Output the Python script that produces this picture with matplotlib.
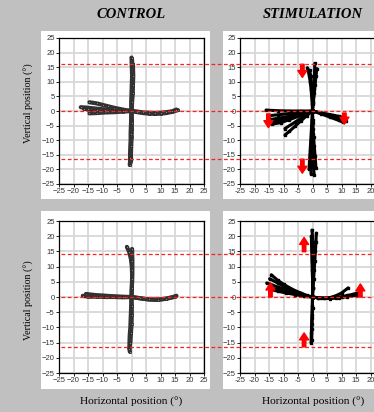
import matplotlib
matplotlib.use("Agg")
import matplotlib.pyplot as plt
from matplotlib.lines import Line2D
from matplotlib.patches import Rectangle
from matplotlib.transforms import blended_transform_factory

W, H = 374, 412

titles = ["CONTROL", "STIMULATION"]
ticks = [-25, -20, -15, -10, -5, 0, 5, 10, 15, 20, 25]

# red reference levels (deg) for each row
ref_top = [16, 0, -16.4]
ref_bottom = [14.3, 0, -16.6]

# trajectories, one (x, y) pair per trial
control_top = [
    ([0, 0.1, 0.2, 0.3, 0.3, 0.4, 0.3, 0.2], [0, 2.5, 5, 7.5, 10, 12.5, 15, 17.5]),
    ([0, -0.1, 0, 0.1, 0.2, 0.1, 0], [0, 3, 6, 9, 12, 15, 18.3]),
    ([0, 0.2, 0.4, 0.5, 0.6, 0.5], [0, 3, 6, 9, 12, 16]),
    ([0, -0.1, -0.2, -0.3, -0.3, -0.4, -0.5, -0.4], [0, -2.5, -5, -7.5, -10, -12.5, -15, -18]),
    ([0, 0.1, 0.1, 0, -0.1, -0.2, -0.1], [0, -3, -6, -9, -12, -15, -17]),
    ([0, 0, -0.1, -0.2, -0.4, -0.6], [0, -4, -8, -12, -16, -18.5]),
    ([0, -2, -4, -6, -8, -10, -12, -14, -16, -17.5], [0, 0.1, 0.2, 0.3, 0.4, 0.6, 0.8, 1, 1.2, 1.3]),
    ([0, -2, -4, -6, -8, -10, -12, -14.5], [0, 0.3, 0.7, 1.1, 1.6, 2.1, 2.6, 3.0]),
    ([0, -3, -6, -9, -12, -14.5], [0, -0.2, -0.4, -0.5, -0.7, -0.8]),
    ([0, -3, -6, -9, -12, -15, -16.5], [0, 0, 0.1, 0.2, 0.4, 0.6, 0.8]),
    ([0, 2, 4, 6, 8, 10, 12, 14, 16], [0, -0.4, -0.7, -0.9, -1, -0.9, -0.7, -0.3, 0.3]),
    ([0, 2, 4, 6, 8, 10, 12, 14, 15.5], [0, -0.2, -0.5, -0.6, -0.7, -0.6, -0.4, -0.1, 0.5]),
]

control_bottom = [
    ([0, 0.1, 0.2, 0.2, 0.1, -0.2, -0.8, -1.6], [0, 2.5, 5, 7.5, 10, 12.5, 14.8, 16.5]),
    ([0, 0.1, 0.2, 0.3, 0.3, 0.2], [0, 3, 6, 9, 12, 15.8]),
    ([0, -0.1, -0.2, -0.3, -0.4, -0.6, -0.7, -0.6], [0, -2.5, -5, -7.5, -10, -12.5, -15, -18]),
    ([0, 0.1, 0.1, 0, -0.2, -0.4, -0.8], [0, -3, -6, -9, -12, -15, -17]),
    ([0, -2, -4, -6, -8, -10, -12, -14, -15.7], [0, 0.05, 0.15, 0.25, 0.35, 0.5, 0.6, 0.8, 1.0]),
    ([0, -3, -6, -9, -12, -15, -16.8], [0, -0.1, 0, 0, 0.1, 0.1, 0.4]),
    ([0, 2, 4, 6, 8, 10, 12, 14, 15.5], [0, -0.3, -0.6, -0.8, -0.9, -0.8, -0.5, -0.1, 0.4]),
    ([0, 3, 6, 9, 12, 15], [0, -0.4, -0.8, -0.9, -0.6, 0.1]),
]

stim_top = [
    ([0, 0.1, 0.3, 0.5, 0.6, 0.7, 0.8], [0, 2.5, 5, 7.5, 10, 13, 16.3]),
    ([0, -0.1, -0.3, -0.5, -0.8, -1.2, -1.8], [0, 2.5, 5, 7.5, 10, 12.5, 14.8]),
    ([0, 0, -0.1, -0.3, -0.6, -1.0], [0, 3, 6, 9, 12, 14]),
    ([0, 0.3, 0.6, 0.9, 1.2, 1.5], [0, 3, 6, 9, 12, 14.5]),
    ([0, -0.1, -0.2, -0.3, -0.4, -0.5, -0.6, -0.5], [0, -3, -6, -9, -12, -15, -18, -21.5]),
    ([0, 0.1, 0.2, 0.4, 0.6, 0.9, 1.2], [0, -3, -6, -9, -12, -15.5, -19.5]),
    ([0, 0, 0, -0.1, 0, 0.3, 0.6], [0, -4, -8, -12, -16, -19, -22]),
    ([0, -0.3, -0.6, -0.9, -1.2], [0, -5, -10, -15, -20]),
    ([0, -4, -8, -12, -16], [0, 0, 0, 0.1, 0.3]),
    ([0, -4, -8, -12, -15], [0, -0.5, -0.9, -1.3, -1.6]),
    ([0, -4, -8, -12, -15], [0, -0.9, -1.8, -2.5, -3]),
    ([0, -4, -8, -12, -15], [0, -1.2, -2.4, -3.4, -4]),
    ([0, -4, -8, -11, -14], [0, -1.5, -3, -4, -4.5]),
    ([0, -3, -6, -9.5], [0, -1.8, -3.8, -6]),
    ([0, -2, -4, -6, -8, -9.5], [0, -1.6, -3.4, -5.2, -7, -8.2]),
    ([0, 3, 6, 9, 11.5], [0, -0.8, -1.6, -2.5, -3.3]),
    ([0, 3, 6, 9, 11], [0, -0.6, -1.2, -1.8, -2.4]),
    ([0, 3, 6, 9, 10.5], [0, -1, -2.1, -3.2, -3.8]),
]

stim_bottom = [
    ([0, 0.1, 0.1, 0.2, 0.3, 0.4, 0.2, -0.2], [0, 3, 6, 9, 12, 15, 18, 22]),
    ([0, 0.2, 0.4, 0.6, 0.8, 1.0, 1.2, 1.3], [0, 3, 6, 9, 12, 15, 18, 21]),
    ([0, 0, 0, -0.1, -0.2, -0.3, -0.4], [0, 3, 6, 9, 12, 16, 20]),
    ([0, -0.1, -0.2, -0.3, -0.4, -0.5], [0, -3, -6, -9, -12, -15]),
    ([0, 0, -0.1, -0.2, -0.3], [0, -3.5, -7, -10.5, -14]),
    ([0, -2, -4, -6, -8, -10, -12, -14.2], [0, 0.5, 1.3, 2.1, 3.1, 4.2, 5.5, 7.3]),
    ([0, -2, -4, -6, -8, -10, -12, -14.8], [0, 0.4, 1.1, 1.8, 2.6, 3.5, 4.6, 6.0]),
    ([0, -2, -4, -6, -8, -10, -12, -14, -15.8], [0, 0.3, 0.8, 1.4, 2, 2.6, 3.3, 4, 4.6]),
    ([0, -3, -6, -9, -12, -15], [0, 0.4, 1, 1.7, 2.4, 3.1]),
    ([0, -3, -6, -9, -12, -14.5], [0, 0.3, 0.8, 1.3, 1.9, 2.5]),
    ([0, 2, 4, 6, 8, 10, 12.3], [0, -0.3, -0.4, -0.2, 0.4, 1.3, 3.0]),
    ([0, 2, 4, 6, 8, 10, 12, 14, 15.5], [0, -0.3, -0.4, -0.4, -0.2, 0.1, 0.5, 0.9, 1.3]),
    ([0, 3, 6, 9, 12, 15.3], [0, -0.4, -0.5, -0.3, 0.1, 0.6]),
]

# stimulation arrows: x, start y, end y
arrows_top_x = [-3.5, -15.2, 11, -3.5]
arrows_top_y0 = [16, -1, -0.7, -16.5]
arrows_top_y1 = [11.5, -5.7, -4.5, -21.3]
arrows_bot_x = [-2.9, -14.5, 16.5, -2.9]
arrows_bot_y0 = [14.9, 0, 0, -16.4]
arrows_bot_y1 = [19.6, 4.6, 4.3, -11.8]

fig = plt.figure(figsize=(W / 100, H / 100), dpi=100, facecolor="#c0c0c0")


def px_box(x0, y0, x1, y1):
    # pixel box (top-left origin) -> figure fraction rect
    return [x0 / W, 1 - y1 / H, (x1 - x0) / W, (y1 - y0) / H]


# white panels behind the axes
for (x0, y0, x1, y1) in [(41, 31, 210, 199), (223, 31, 380, 199),
                         (41, 211, 210, 389), (223, 211, 380, 389)]:
    b = px_box(x0, y0, x1, y1)
    fig.add_artist(Rectangle((b[0], b[1]), b[2], b[3], transform=fig.transFigure,
                             facecolor="white", edgecolor="none", zorder=-1))

ax_ct = fig.add_axes(px_box(59, 38, 204, 184))
ax_st = fig.add_axes(px_box(240, 38, 385, 184))
ax_cb = fig.add_axes(px_box(59, 221, 204, 373))
ax_sb = fig.add_axes(px_box(240, 221, 385, 373))

for ax in [ax_ct, ax_st, ax_cb, ax_sb]:
    ax.set_xlim(-25, 25)
    ax.set_ylim(-25, 25)
    ax.set_xticks(ticks)
    ax.set_yticks(ticks)
    ax.grid(True, color="#d8d8d8", linewidth=1.3)
    ax.set_axisbelow(True)
    ax.tick_params(direction="out", length=2, width=0.6, labelsize=5.5,
                   pad=1, labelcolor="#333333")
    for lab in ax.get_xticklabels() + ax.get_yticklabels():
        lab.set_family("Liberation Sans")
    for s in ax.spines.values():
        s.set_linewidth(0.9)

# the right-hand panels run off the figure edge; the last x label is not shown
for ax in [ax_st, ax_sb]:
    ax.set_xticklabels([str(t) for t in ticks[:-1]] + [""])


def draw_control(ax, trials):
    for xs, ys in trials:
        ax.plot(xs, ys, color="#333333", linewidth=3.0, solid_capstyle="round",
                marker="s", markersize=1.7, markerfacecolor="#888888",
                markeredgecolor="#111111", markeredgewidth=0.4, zorder=3)


def draw_stim(ax, trials):
    for xs, ys in trials:
        ax.plot(xs, ys, color="black", linewidth=2.2, solid_capstyle="round",
                marker="s", markersize=1.6, markerfacecolor="black",
                markeredgecolor="black", zorder=3)


draw_control(ax_ct, control_top)
draw_control(ax_cb, control_bottom)
draw_stim(ax_st, stim_top)
draw_stim(ax_sb, stim_bottom)


def draw_arrows(ax, xs, y0s, y1s):
    for x, a, b in zip(xs, y0s, y1s):
        ax.annotate("", xy=(x, b), xytext=(x, a),
                    arrowprops=dict(arrowstyle="simple,head_length=0.5,head_width=0.65,tail_width=0.25",
                                    color="red", shrinkA=0, shrinkB=0, mutation_scale=10),
                    zorder=5)


draw_arrows(ax_st, arrows_top_x, arrows_top_y0, arrows_top_y1)
draw_arrows(ax_sb, arrows_bot_x, arrows_bot_y0, arrows_bot_y1)

# red dashed reference lines running across both panels of a row
for ax, levels in [(ax_ct, ref_top), (ax_cb, ref_bottom)]:
    tr = blended_transform_factory(fig.transFigure, ax.transData)
    for lv in levels:
        fig.add_artist(Line2D([61 / W, 1.0], [lv, lv], transform=tr, color="#ff2020",
                              linewidth=0.9, linestyle=(0, (3, 2)), zorder=4))

serif = "Liberation Serif"
fig.text(131 / W, 1 - 14 / H, titles[0], ha="center", va="center", family=serif,
         fontsize=10.5, fontweight="bold", style="italic")
fig.text(313 / W, 1 - 14 / H, titles[1], ha="center", va="center", family=serif,
         fontsize=10.5, fontweight="bold", style="italic")

for yc in [103, 300]:
    fig.text(29 / W, 1 - yc / H, "Vertical position (°)", rotation=90, ha="center",
             va="center", family=serif, fontsize=7.2)
for xc in [131, 313]:
    fig.text(xc / W, 1 - 402 / H, "Horizontal position (°)", ha="center", va="center",
             family=serif, fontsize=8.2)

fig.savefig("out.png", dpi=100, facecolor=fig.get_facecolor())
